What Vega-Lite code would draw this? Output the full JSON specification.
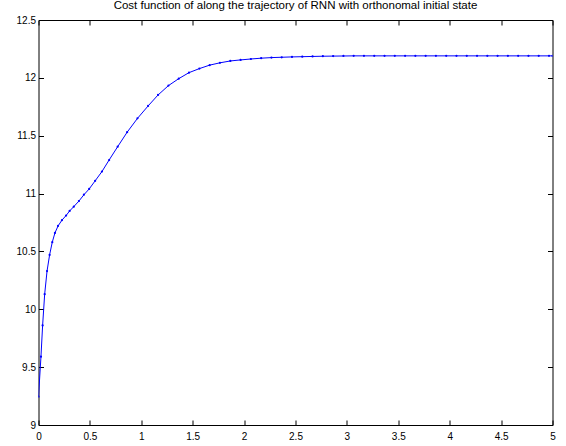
{
  "$schema": "https://vega.github.io/schema/vega-lite/v6.json",
  "width": 514,
  "height": 405,
  "autosize": {"type": "none"},
  "padding": {"left": 38.5, "top": 20, "right": 13.5, "bottom": 21},
  "background": "white",
  "title": {"text": "Cost function of along the trajectory of RNN with orthonomal initial state", "font": "Liberation Sans", "fontSize": 11.5, "fontWeight": "normal", "color": "black", "offset": 4, "anchor": "middle"},
  "config": {
    "view": {"stroke": null},
    "axis": {"grid": false, "domainColor": "black", "domainWidth": 1, "tickColor": "black", "tickWidth": 1, "tickSize": -5, "labelFont": "Liberation Sans", "labelFontSize": 10, "labelColor": "black", "labelFlush": false, "labelOverlap": false, "title": null}
  },
  "data": {"values": [
    {"t": 0, "c": 9.245}, {"t": 0.024, "c": 9.59}, {"t": 0.04, "c": 9.86}, {"t": 0.06, "c": 10.13},
    {"t": 0.083, "c": 10.33}, {"t": 0.108, "c": 10.47}, {"t": 0.134, "c": 10.58}, {"t": 0.16, "c": 10.66},
    {"t": 0.19, "c": 10.72}, {"t": 0.228, "c": 10.77}, {"t": 0.268, "c": 10.81}, {"t": 0.303, "c": 10.85},
    {"t": 0.343, "c": 10.887}, {"t": 0.393, "c": 10.935}, {"t": 0.442, "c": 10.99}, {"t": 0.493, "c": 11.04},
    {"t": 0.551, "c": 11.11}, {"t": 0.617, "c": 11.19}, {"t": 0.687, "c": 11.29}, {"t": 0.77, "c": 11.405},
    {"t": 0.862, "c": 11.53}, {"t": 0.963, "c": 11.65}, {"t": 1.066, "c": 11.757}, {"t": 1.163, "c": 11.852},
    {"t": 1.264, "c": 11.933}, {"t": 1.364, "c": 11.993}, {"t": 1.464, "c": 12.045}, {"t": 1.565, "c": 12.08},
    {"t": 1.665, "c": 12.11}, {"t": 1.765, "c": 12.13}, {"t": 1.866, "c": 12.146}, {"t": 1.966, "c": 12.155},
    {"t": 2.066, "c": 12.163}, {"t": 2.166, "c": 12.17}, {"t": 2.266, "c": 12.175}, {"t": 2.366, "c": 12.178},
    {"t": 2.466, "c": 12.181}, {"t": 2.566, "c": 12.183}, {"t": 2.666, "c": 12.185}, {"t": 2.766, "c": 12.187},
    {"t": 2.866, "c": 12.188}, {"t": 2.966, "c": 12.189}, {"t": 3.066, "c": 12.19}, {"t": 3.166, "c": 12.19},
    {"t": 3.266, "c": 12.19}, {"t": 3.366, "c": 12.19}, {"t": 3.466, "c": 12.19}, {"t": 3.566, "c": 12.19},
    {"t": 3.666, "c": 12.19}, {"t": 3.766, "c": 12.19}, {"t": 3.866, "c": 12.19}, {"t": 3.966, "c": 12.19},
    {"t": 4.066, "c": 12.19}, {"t": 4.166, "c": 12.19}, {"t": 4.266, "c": 12.19}, {"t": 4.366, "c": 12.19},
    {"t": 4.466, "c": 12.19}, {"t": 4.566, "c": 12.19}, {"t": 4.666, "c": 12.19}, {"t": 4.766, "c": 12.19},
    {"t": 4.866, "c": 12.19}, {"t": 4.966, "c": 12.19}, {"t": 5.0, "c": 12.19}
  ]},
  "layer": [
    {
      "mark": {"type": "line", "color": "#0000ff", "strokeWidth": 1, "clip": true},
      "encoding": {
        "x": {"field": "t", "type": "quantitative", "scale": {"domain": [0, 5], "nice": false, "zero": false},
              "axis": {"orient": "bottom", "values": [0, 0.5, 1, 1.5, 2, 2.5, 3, 3.5, 4, 4.5, 5], "format": "~g", "labelPadding": 11}},
        "y": {"field": "c", "type": "quantitative", "scale": {"domain": [9, 12.5], "nice": false, "zero": false},
              "axis": {"orient": "left", "values": [9, 9.5, 10, 10.5, 11, 11.5, 12, 12.5], "format": "~g", "labelPadding": 8}}
      }
    },
    {
      "mark": {"type": "point", "filled": true, "color": "#0000ff", "size": 5, "opacity": 1, "clip": true},
      "encoding": {
        "x": {"field": "t", "type": "quantitative", "scale": {"domain": [0, 5], "nice": false, "zero": false},
              "axis": {"orient": "top", "values": [0, 0.5, 1, 1.5, 2, 2.5, 3, 3.5, 4, 4.5, 5], "labels": false}},
        "y": {"field": "c", "type": "quantitative", "scale": {"domain": [9, 12.5], "nice": false, "zero": false},
              "axis": {"orient": "right", "values": [9, 9.5, 10, 10.5, 11, 11.5, 12, 12.5], "labels": false}}
      }
    }
  ],
  "resolve": {"scale": {"x": "independent", "y": "independent"}, "axis": {"x": "independent", "y": "independent"}}
}
